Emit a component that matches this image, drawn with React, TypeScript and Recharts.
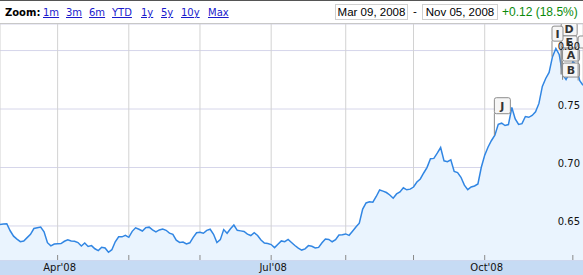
import React from 'react';
import { AreaChart, Area, XAxis, YAxis, CartesianGrid, ReferenceDot } from 'recharts';

// one closing value per trading day, Mar 10 2008 .. Nov 05 2008
const prices = [
  0.6513, 0.6517, 0.6519, 0.6459, 0.6413, 0.6388, 0.6366, 0.6372, 0.6400, 0.6428,
  0.6478, 0.6484, 0.6490, 0.6450, 0.6357, 0.6330, 0.6346, 0.6348, 0.6350, 0.6369,
  0.6381, 0.6371, 0.6369, 0.6358, 0.6329, 0.6354, 0.6325, 0.6332, 0.6305, 0.6289,
  0.6318, 0.6312, 0.6275, 0.6297, 0.6365, 0.6408, 0.6407, 0.6420, 0.6403, 0.6454,
  0.6484, 0.6472, 0.6457, 0.6486, 0.6490, 0.6467, 0.6450, 0.6466, 0.6473, 0.6463,
  0.6439, 0.6428, 0.6378, 0.6359, 0.6363, 0.6346, 0.6356, 0.6403, 0.6442, 0.6447,
  0.6438, 0.6462, 0.6472, 0.6429, 0.6359, 0.6383, 0.6469, 0.6438, 0.6476, 0.6508,
  0.6463, 0.6458, 0.6453, 0.6430, 0.6418, 0.6442, 0.6419, 0.6380, 0.6354, 0.6350,
  0.6341, 0.6315, 0.6344, 0.6372, 0.6366, 0.6385, 0.6359, 0.6333, 0.6310, 0.6294,
  0.6304, 0.6332, 0.6326, 0.6312, 0.6317, 0.6356, 0.6389, 0.6385, 0.6365, 0.6383,
  0.6423, 0.6425, 0.6432, 0.6420, 0.6455, 0.6491, 0.6524, 0.6645, 0.6697, 0.6707,
  0.6703, 0.6752, 0.6808, 0.6798, 0.6786, 0.6765, 0.6737, 0.6774, 0.6791, 0.6826,
  0.6809, 0.6815, 0.6833, 0.6876, 0.6902, 0.6953, 0.7001, 0.7075, 0.7078, 0.7122,
  0.7171, 0.7057, 0.7050, 0.7066, 0.6966, 0.6956, 0.6916, 0.6849, 0.6811, 0.6833,
  0.6842, 0.6859, 0.7002, 0.7105, 0.7175, 0.7231, 0.7276, 0.7370, 0.7379, 0.7359,
  0.7367, 0.7513, 0.7415, 0.7368, 0.7375, 0.7436, 0.7429, 0.7445, 0.7476, 0.7548,
  0.7693, 0.7761, 0.7813, 0.7948, 0.8018, 0.7964, 0.7796, 0.7752, 0.7808, 0.7905,
  0.7879, 0.7744, 0.7703,
];

// trading-day index of each month start (Apr..Nov) and its label
const monthTicks = [17, 38, 59, 80, 102, 122, 143, 169];
const monthLabels = ["Apr'08", '', '', "Jul'08", '', '', "Oct'08", ''];

const priceTicks = [0.65, 0.7, 0.75, 0.8];

const zoomLinks = ['1m', '3m', '6m', 'YTD', '1y', '5y', '10y', 'Max'];
const startDate = 'Mar 09, 2008';
const endDate = 'Nov 05, 2008';
const changeText = '+0.12 (18.5%)';

// news flags: letter and the trading day they point at ('' = flag cut off at the edge)
const flagLetters = ['D', 'E', 'A', 'B', '', 'J', 'I'];
const flagDays = [166, 166, 167, 167, 171, 146, 163];

// how the flags are stacked above their points (px)
const FLAG_LAYOUT: Record<string, { lift: number; dx: number; w: number; h: number }> = {
  J: { lift: 38, dx: -1, w: 16, h: 16 },
  I: { lift: 31, dx: -1, w: 11, h: 15 },
  D: { lift: 52, dx: -2, w: 16, h: 13 },
  E: { lift: 39, dx: -2, w: 16, h: 12 },
  A: { lift: 31, dx: -4, w: 17, h: 12 },
  B: { lift: 17, dx: -4, w: 17, h: 14 },
  '': { lift: 45, dx: -2, w: 16, h: 12 },
};

const ZOOM_X = [43, 66, 89, 112, 141, 161, 181, 208];

const rows = prices.map((p, i) => ({ day: i, price: p }));

const FONT = '"DejaVu Sans", Verdana, sans-serif';
const ARIAL = '"Liberation Sans", Arial, sans-serif';

function MonthTick(props: any) {
  const { x, y, index } = props;
  const label = monthLabels[index];
  return (
    <g>
      <line x1={x} x2={x} y1={y - 5} y2={y} stroke="#8a8a8a" />
      {label ? (
        <text x={x + 2} y={y + 11} textAnchor="middle" fontSize={10} fontFamily={FONT} fill="#111">
          {label}
        </text>
      ) : null}
    </g>
  );
}

function PriceTick(props: any) {
  const { y, payload } = props;
  return (
    <text x={580} y={y - 0.5} textAnchor="end" fontSize={10} fontFamily={FONT} fill="#111">
      {payload.value.toFixed(2)}
    </text>
  );
}

function makeFlag(letter: string) {
  const f = FLAG_LAYOUT[letter];
  return (props: any) => {
    const { cx, cy } = props;
    const left = cx + f.dx;
    const top = cy - f.lift;
    return (
      <g>
        <line x1={left + 0.5} x2={left + 0.5} y1={top + f.h} y2={cy} stroke="#8c8c8c" />
        <rect x={left + 0.5} y={top + 0.5} width={f.w} height={f.h} rx={2} fill="#f6f6f6" stroke="#8c8c8c" />
        {letter ? (
          <text x={left + 0.5 + f.w / 2} y={top + f.h / 2 + 4.5} textAnchor="middle" fontSize={11}
            fontWeight="bold" fontFamily={FONT} fill="#333">
            {letter}
          </text>
        ) : null}
      </g>
    );
  };
}

const dateBox: React.CSSProperties = {
  position: 'absolute', top: 3, height: 16, boxSizing: 'border-box', border: '1px solid #d0d0d0',
  fontFamily: ARIAL, fontSize: 11.5, lineHeight: '14px', textAlign: 'center', color: '#000',
};

export default function App() {
  return (
    <div style={{ position: 'absolute', left: 0, top: 0, width: 583, height: 275, background: '#fff', overflow: 'hidden', fontFamily: FONT }}>
      <div style={{ position: 'absolute', left: 0, top: 0, width: 583, height: 24, boxSizing: 'border-box', borderTop: '1px solid #555', borderBottom: '1px solid #c8c8c8' }}>
        <span style={{ position: 'absolute', left: 5, top: 6, fontSize: 10, fontWeight: 'bold', color: '#000' }}>Zoom:</span>
        {zoomLinks.map((z, i) => (
          <span key={z} style={{ position: 'absolute', left: ZOOM_X[i], top: 6, fontSize: 10, color: '#1a1acc', textDecoration: 'underline' }}>{z}</span>
        ))}
        <span style={{ ...dateBox, left: 335, width: 73 }}>{startDate}</span>
        <span style={{ position: 'absolute', left: 413, top: 4, fontFamily: ARIAL, fontSize: 11.5, color: '#000' }}>-</span>
        <span style={{ ...dateBox, left: 422, width: 76 }}>{endDate}</span>
        <span style={{ position: 'absolute', left: 502, top: 4, fontFamily: ARIAL, fontSize: 12, color: '#0a8a0a' }}>{changeText}</span>
      </div>
      <div style={{ position: 'absolute', left: 0, top: 260, width: 583, height: 15, background: '#c6dbf4' }} />
      <div style={{ position: 'absolute', left: 0, top: 24 }}>
        <AreaChart width={583} height={251} data={rows} margin={{ top: 0, right: 0, bottom: 0, left: 0 }}>
          <CartesianGrid vertical={false} stroke="#d6d6ea" />
          <CartesianGrid horizontal={false} stroke="#d2d2d2" />
          <XAxis type="number" dataKey="day" domain={[0, 172]} ticks={monthTicks} interval={0}
            height={15} tickSize={0} tickMargin={0} axisLine={false} tickLine={false} tick={<MonthTick />} />
          <YAxis orientation="right" mirror domain={[0.6209, 0.8227]} ticks={priceTicks} allowDataOverflow
            axisLine={false} tickLine={false} tick={<PriceTick />} width={40} />
          <Area type="linear" dataKey="price" stroke="#3186e3" strokeWidth={1.5} fill="#eaf4fe" fillOpacity={1}
            dot={false} activeDot={false} isAnimationActive={false} />
          {flagLetters.map((l, i) => (
            <ReferenceDot key={i} x={flagDays[i]} y={prices[flagDays[i]]} r={0} ifOverflow="visible" shape={makeFlag(l)} />
          ))}
        </AreaChart>
      </div>
    </div>
  );
}
